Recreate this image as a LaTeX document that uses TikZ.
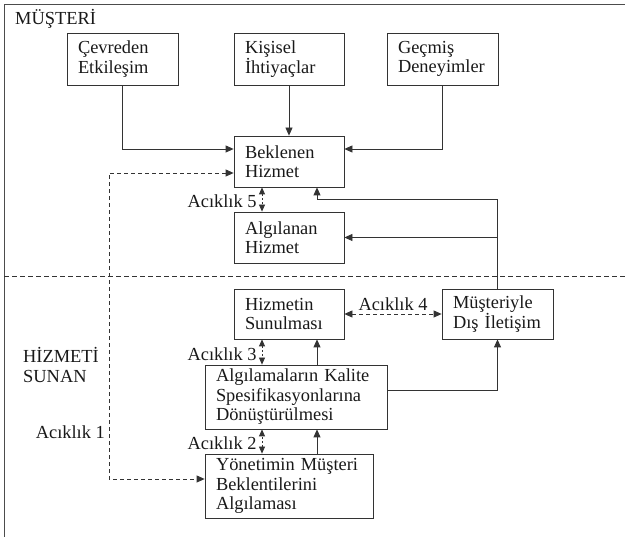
\documentclass[tikz,border=0pt]{standalone}
\usepackage{fontspec}
\setmainfont{Liberation Serif}
\usetikzlibrary{arrows.meta}
\begin{document}
\begin{tikzpicture}[x=1pt,y=-1pt,
  every node/.style={font=\fontsize{18.4}{19.5}\selectfont, text=black!90},
  box/.style={draw=black!80, line width=0.8pt, align=left, inner xsep=11pt, inner ysep=0pt},
  arr/.style={draw=black!80, line width=0.8pt, -{Triangle[length=8pt,width=7pt]}},
  dbl/.style={draw=black!80, line width=0.8pt, dash pattern=on 2pt off 2pt, {Triangle[length=7pt,width=6pt]}-{Triangle[length=7pt,width=6pt]}},
  dasharr/.style={draw=black!80, line width=0.8pt, dash pattern=on 4pt off 3pt, {Triangle[length=8pt,width=7pt]}-{Triangle[length=8pt,width=7pt]}},
  lbl/.style={inner sep=1pt}]
\useasboundingbox (0,0) rectangle (625,537);
% frame
\draw[black!70, line width=0.8pt] (625,4) -- (4,4) -- (4,537);
\draw[black!80, line width=0.7pt, dash pattern=on 5pt off 3pt] (4,276) -- (625,276);
% headings
\node[lbl, anchor=base west] (musteri) at (14,25) {MÜŞTERİ};
\node[lbl, anchor=west, align=left] (sunan) at (22,365) {HİZMETİ\\SUNAN};
% boxes
\node[box, minimum width=111pt, minimum height=52pt, text width=89pt] (cev) at (122.5,59) {Çevreden\\Etkileşim};
\node[box, minimum width=110pt, minimum height=52pt, text width=88pt] (kis) at (289,59) {Kişisel\\İhtiyaçlar};
\node[box, minimum width=111pt, minimum height=52pt, text width=89pt] (gec) at (442.5,59) {Geçmiş\\Deneyimler};
\node[box, minimum width=110pt, minimum height=51pt, text width=88pt] (bek) at (289,161.5) {Beklenen\\Hizmet};
\node[box, minimum width=110pt, minimum height=51pt, text width=88pt] (alg) at (289,237.5) {Algılanan\\Hizmet};
\node[box, minimum width=110pt, minimum height=50pt, text width=88pt] (hiz) at (289,314) {Hizmetin\\Sunulması};
\node[box, minimum width=111pt, minimum height=50pt, text width=89pt] (mus) at (497.5,314) {Müşteriyle\\Dış İletişim};
\node[box, minimum width=182pt, minimum height=64pt, text width=160pt] (kal) at (296,397) {Algılamaların Kalite\\Spesifikasyonlarına\\Dönüştürülmesi};
\node[box, minimum width=168pt, minimum height=64pt, text width=146pt] (yon) at (289,486) {Yönetimin Müşteri\\Beklentilerini\\Algılaması};
% connectors (customer side)
\draw[arr] (cev.south) |- ([yshift=12.5pt]bek.west);
\draw[arr] (kis) -- (bek);
\draw[arr] (gec.south) |- ([yshift=12.5pt]bek.east);
\draw[dbl] ([xshift=-27pt]bek.south) -- ([xshift=-27pt]alg.north)
  node[midway, left, lbl, xshift=-4pt, yshift=-2pt] (g5) {Acıklık 5};
\coordinate (m1) at (497.5,199);
\coordinate (m2) at (497.5,237.5);
\draw[arr] (mus.north) -- (m1) -| ([xshift=28pt]bek.south);
\draw[arr] (m2) -- (alg.east);
% gap 1
\coordinate (c1) at (109,173);
\coordinate (c2) at (109,479);
\draw[dasharr] ([yshift=-11.5pt]bek.west) -- (c1) -- (c2) -- ([yshift=7pt]yon.west);
\path (c1) -- (c2) node[pos=0.846, left, lbl, xshift=-3pt] (g1) {Acıklık 1};
% provider side
\draw[dasharr] (hiz.east) -- (mus.west)
  node[midway, above, lbl, yshift=2pt] (g4) {Acıklık 4};
\draw[dbl] ([xshift=-27pt]hiz.south) -- ([xshift=-27pt]hiz.south |- kal.north)
  node[midway, left, lbl, xshift=-4pt, yshift=-2pt] (g3) {Acıklık 3};
\draw[arr] ([xshift=28pt]hiz.south |- kal.north) -- ([xshift=28pt]hiz.south);
\draw[arr] ([yshift=7pt]kal.east) -| (mus.south);
\draw[dbl] ([xshift=-27pt]yon.north) -- ([xshift=-27pt]yon.north |- kal.south)
  node[midway, left, lbl, xshift=-4pt, yshift=-2pt] (g2) {Acıklık 2};
\draw[arr] ([xshift=28pt]yon.north) -- ([xshift=28pt]yon.north |- kal.south);
\end{tikzpicture}
\end{document}
